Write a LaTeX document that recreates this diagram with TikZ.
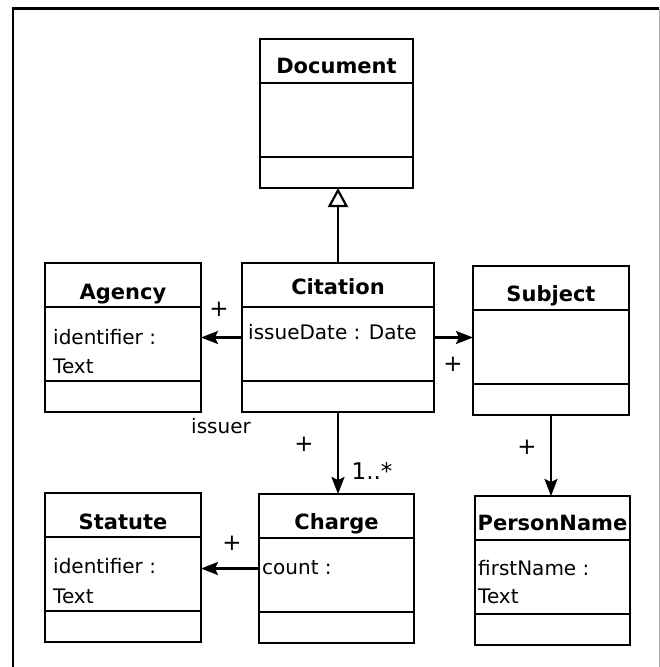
\documentclass[tikz,border=0pt]{standalone}
\usepackage{fontspec}
\setmainfont{DejaVu Sans}
\usetikzlibrary{arrows.meta}

\begin{document}
\begin{tikzpicture}[x=1pt, y=-1pt, every node/.style={font=\fontsize{20}{30}\selectfont},
    cls/.style={draw, line width=2.6pt, anchor=north west, inner sep=0pt, outer sep=0pt,
                minimum width=156pt, minimum height=149pt},
    title/.style={anchor=base, inner sep=0pt, font=\fontsize{21}{30}\selectfont\bfseries},
    attr/.style={anchor=base west, inner sep=0pt},
    sep/.style={line width=1.2pt},
    plus/.style={inner sep=0pt, font=\fontsize{23}{30}\selectfont},
    assoc/.style={-{Stealth[length=17pt, width=13pt, inset=3pt]}, line width=2.2pt},
    inherit/.style={-{Triangle[open, length=19pt, width=20pt]}, line width=2.2pt}]
    \useasboundingbox (0,0) rectangle (660,667);

    % frame
    \draw[line width=2.5pt] (13,667) -- (13,8.5) -- (659,8.5);
    \draw[gray!60, line width=1pt] (659,8.5) -- (659,667);

    % classes
    \node[cls, minimum width=153pt] (doc) at (260,39) {};
    \node[cls, minimum width=192pt] (cit) at (242,263) {};
    \node[cls] (age) at (45,263) {};
    \node[cls] (sub) at (473,266) {};
    \node[cls] (sta) at (45,493) {};
    \node[cls, minimum width=155pt] (cha) at (259,494) {};
    \node[cls, minimum width=155pt] (per) at (475,496) {};

    \foreach \c in {doc, cit, age, sub, sta, cha, per} {
      \draw[sep] ([yshift=-44pt]\c.north west) -- ([yshift=-44pt]\c.north east);
      \draw[sep] ([yshift=-118pt]\c.north west) -- ([yshift=-118pt]\c.north east);
    }

    \node[title] (docT) at ([yshift=-34pt]doc.north) {Document};
    \node[title] (citT) at ([yshift=-31pt]cit.north) {Citation};
    \node[title] (ageT) at ([yshift=-36pt]age.north) {Agency};
    \node[title] (subT) at ([yshift=-35pt]sub.north) {Subject};
    \node[title] (staT) at ([yshift=-36pt]sta.north) {Statute};
    \node[title] (chaT) at ([yshift=-35pt]cha.north) {Charge};
    \node[title] (perT) at ([yshift=-34pt]per.north) {PersonName};

    % attributes
    \node[attr] (citA) at ([xshift=6pt, yshift=-76pt]cit.north west) {issueDate : Date};
    \node[attr] (ageA) at ([xshift=8pt, yshift=-81pt]age.north west) {identifier :};
    \node[attr] (ageB) at ([xshift=8pt, yshift=-110pt]age.north west) {Text};
    \node[attr] (staA) at ([xshift=8pt, yshift=-80pt]sta.north west) {identifier :};
    \node[attr] (staB) at ([xshift=8pt, yshift=-110pt]sta.north west) {Text};
    \node[attr] (chaA) at ([xshift=3pt, yshift=-80pt]cha.north west) {count :};
    \node[attr] (perA) at ([xshift=3pt, yshift=-79pt]per.north west) {firstName :};
    \node[attr] (perB) at ([xshift=3pt, yshift=-107pt]per.north west) {Text};

    % connectors
    \draw[inherit] (cit.north) -- (cit.north |- doc.south);
    \draw[assoc] (cit.west) -- (cit.west -| age.east);
    \draw[assoc] (cit.east) -- (cit.east -| sub.west);
    \draw[assoc] (cit.south) -- (cit.south |- cha.north);
    \draw[assoc] (sub.south) -- (sub.south |- per.north);
    \draw[assoc] (cha.west) -- (cha.west -| sta.east);

    % end labels
    \node[plus] (plA) at (219,309) {+};
    \node (issuer) at (221,426) {issuer};
    \node[plus] (plS) at (453,364) {+};
    \node[plus] (plC) at (304,444) {+};
    \node[plus] (mC) at (372,471) {1..*};
    \node[plus] (plP) at (527,447) {+};
    \node[plus] (plT) at (232,543) {+};
\end{tikzpicture}
\end{document}
